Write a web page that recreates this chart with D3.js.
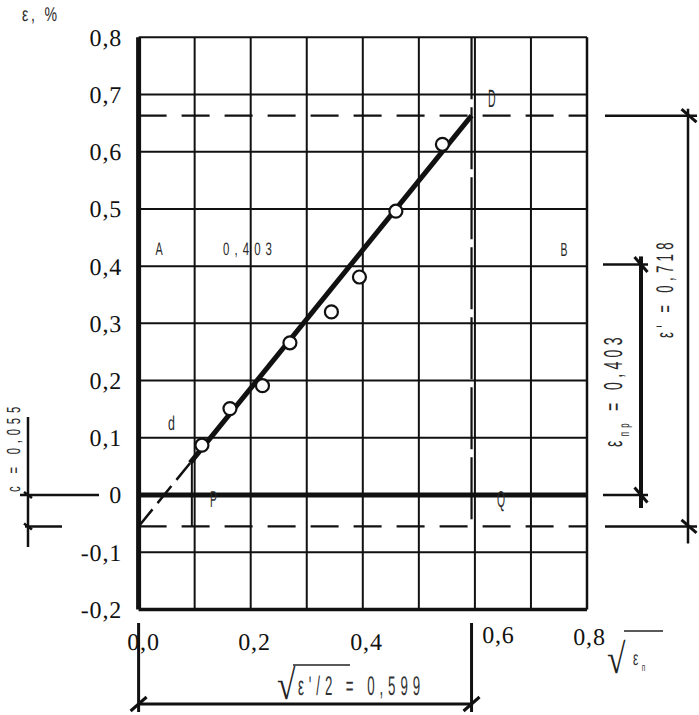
<!DOCTYPE html>
<html><head><meta charset="utf-8">
<script src="https://cdn.jsdelivr.net/npm/d3@7"></script>
<style>body{margin:0;background:#fff}svg{display:block}text{text-rendering:geometricPrecision}</style>
</head><body>
<svg id="c" width="699" height="715"></svg>
<script>
// ---- data ----
const xTickValues = [0, 0.2, 0.4, 0.6, 0.8];
const xTickLabels = ["0,0", "0,2", "0,4", "0,6", "0,8"];
const yTickValues = [0.8, 0.7, 0.6, 0.5, 0.4, 0.3, 0.2, 0.1, 0, -0.1, -0.2];
const yTickLabels = ["0,8", "0,7", "0,6", "0,5", "0,4", "0,3", "0,2", "0,1", "0", "-0,1", "-0,2"];
const gridX = [0, 0.1, 0.2, 0.3, 0.4, 0.5, 0.6, 0.7, 0.8];
const gridY = [0.8, 0.7, 0.6, 0.5, 0.4, 0.3, 0.2, 0.1, 0, -0.1, -0.2];
const pointsX = [0.113, 0.163, 0.221, 0.270, 0.344, 0.394, 0.459, 0.542];
const pointsY = [0.087, 0.151, 0.191, 0.266, 0.320, 0.381, 0.496, 0.613];
const fitX = [0, 0.092, 0.594];
const fitY = [-0.055, 0.056, 0.663];
const levelD = 0.663;     // ε' - c
const levelLow = -0.055;  // -c
const levelAB = 0.403;    // ε_пр
const xD = 0.594;         // drawn position of sqrt(ε'/2)
const xP = 0.095;
const cValue = "0,055", epsPrValue = "0,403", epsPrimeValue = "0,718", sqrtValue = "0,599";

// ---- setup ----
const svg = d3.select("#c");
const x = d3.scaleLinear().domain([0, 0.8]).range([138.6, 587]);
const y = d3.scaleLinear().domain([-0.2, 0.8]).range([609.4, 37.3]);
const INK = "#111";
const SERIF = "'Liberation Serif', Tinos, 'Times New Roman', 'DejaVu Serif', serif";
const NARROW = "'Liberation Sans', Arial, sans-serif";

// grid
svg.append("g").selectAll("line").data(gridX).join("line")
  .attr("x1", d => x(d)).attr("x2", d => x(d))
  .attr("y1", y(0.8)).attr("y2", y(-0.2))
  .attr("stroke", INK).attr("stroke-width", d => d === 0 ? 5 : (d === 0.8 ? 2.5 : 2));
svg.append("g").selectAll("line").data(gridY).join("line")
  .attr("x1", x(0)).attr("x2", x(0.8))
  .attr("y1", d => y(d)).attr("y2", d => y(d))
  .attr("stroke", INK).attr("stroke-width", d => d === 0 ? 5 : (d === -0.2 ? 3.5 : 2));

// dashed construction lines
const dashed = svg.append("g").attr("stroke", INK).attr("stroke-width", 2.2).attr("fill", "none");
[levelD, levelLow].forEach(v => dashed.append("line")
  .attr("x1", x(0)).attr("x2", x(0.8)).attr("y1", y(v)).attr("y2", y(v))
  .attr("stroke-dasharray", "28,15"));
dashed.append("line").attr("x1", x(xD)).attr("x2", x(xD))
  .attr("y1", y(0.8)).attr("y2", y(levelLow)).attr("stroke-dasharray", "62,8");
dashed.append("line").attr("x1", x(xP)).attr("x2", x(xP))
  .attr("y1", y(fitY[1])).attr("y2", y(levelLow)).attr("stroke-width", 2);

// fitted line
svg.append("line").attr("x1", x(fitX[0])).attr("y1", y(fitY[0]))
  .attr("x2", x(fitX[1])).attr("y2", y(fitY[1]))
  .attr("stroke", INK).attr("stroke-width", 2.5).attr("stroke-dasharray", "22,8");
svg.append("line").attr("x1", x(fitX[1])).attr("y1", y(fitY[1]))
  .attr("x2", x(fitX[2])).attr("y2", y(fitY[2]))
  .attr("stroke", INK).attr("stroke-width", 5);

// points
svg.append("g").selectAll("circle").data(pointsX).join("circle")
  .attr("cx", d => x(d)).attr("cy", (d, i) => y(pointsY[i])).attr("r", 6.5)
  .attr("fill", "#fff").attr("stroke", INK).attr("stroke-width", 2.2);

// axes
const yAxis = svg.append("g").attr("transform", `translate(${x(0)},0)`)
  .call(d3.axisLeft(y).tickValues(yTickValues).tickFormat((d, i) => yTickLabels[i]).tickSize(0).tickPadding(16.6));
yAxis.attr("font-family", SERIF).attr("font-size", 24);
yAxis.select(".domain").remove();
yAxis.selectAll("text").style("font-family", SERIF).style("font-size", "24px")
  .attr("letter-spacing", 0.8).attr("fill", INK).attr("dy", "0.33em");

const xDx = [4.4, 3.3, 3.2, 23, 2];
const xBase = [40.6, 40.6, 40.6, 33.6, 35.6];
const xAxis = svg.append("g").attr("transform", `translate(0,${y(-0.2)})`)
  .call(d3.axisBottom(x).tickValues(xTickValues).tickFormat((d, i) => xTickLabels[i]).tickSize(0));
xAxis.attr("font-family", SERIF).attr("font-size", 24);
xAxis.select(".domain").remove();
xAxis.selectAll("text").style("font-family", SERIF).style("font-size", "24px")
  .attr("letter-spacing", 0.8).attr("fill", INK)
  .attr("dx", (d, i) => xDx[i]).attr("y", (d, i) => xBase[i]).attr("dy", 0);

// condensed label helper
function clabel(o) {
  const fs = o.fs || 20;
  const t = svg.append("text")
    .attr("transform", `translate(${o.x},${o.y}) rotate(${o.rot || 0}) scale(${o.sx || 1},1)`)
    .style("font-family", NARROW).style("font-size", fs + "px")
    .attr("letter-spacing", o.ls || 0).attr("fill", o.fill || "#2a2a2a")
    .attr("text-anchor", o.anchor || "start");
  (o.parts || [[o.text]]).forEach(p => {
    const s = t.append("tspan").text(p[0]);
    if (p[1] === "sub") s.style("font-size", (fs * 0.55) + "px").attr("dy", fs * 0.28);
    if (p[1] === "back") s.attr("dy", -fs * 0.28);
  });
  if (o.len) t.attr("textLength", o.len / (o.sx || 1)).attr("lengthAdjust", "spacingAndGlyphs");
  return t;
}

clabel({x: 22, y: 21, text: "ε, %", fs: 20, ls: 4, len: 38});
clabel({x: 159, y: 255, text: "A", fs: 18, sx: 0.6, anchor: "middle"});
clabel({x: 223, y: 255, text: epsPrValue, fs: 18, ls: 8, len: 54});
clabel({x: 564, y: 256, text: "B", fs: 19, sx: 0.55, anchor: "middle"});
clabel({x: 488, y: 107, text: "D", fs: 25, sx: 0.42});
clabel({x: 168, y: 430, text: "d", fs: 20, sx: 0.62});
clabel({x: 210, y: 507, text: "P", fs: 23, sx: 0.45});
clabel({x: 497, y: 507, text: "Q", fs: 23, sx: 0.45});

// rotated annotation texts
clabel({x: 622, y: 447, rot: -90, fs: 26, ls: 8, len: 114,
  parts: [["ε"], ["пр", "sub"], [" = " + epsPrValue, "back"]]});
clabel({x: 673, y: 338, rot: -90, fs: 24, ls: 8, len: 100, text: "ε' = " + epsPrimeValue});
clabel({x: 20, y: 492, rot: -90, fs: 19, ls: 8, len: 90, text: "c = " + cValue});

// bottom annotation text with radical
svg.append("text").attr("transform", "translate(277,699) scale(0.8,1)").style("font-family", SERIF)
  .style("font-size", "42px").attr("fill", "#222").text("√");
svg.append("line").attr("x1", 293).attr("x2", 350).attr("y1", 665).attr("y2", 665)
  .attr("stroke", "#222").attr("stroke-width", 1.3);
clabel({x: 298, y: 695, fs: 27, ls: 10, len: 127, fill: "#333", text: "ε'/2  = " + sqrtValue});

// x axis title: sqrt(ε_п)
svg.append("text").attr("transform", "translate(607,673) scale(0.8,1)").style("font-family", SERIF)
  .style("font-size", "42px").attr("fill", "#222").text("√");
svg.append("line").attr("x1", 624).attr("x2", 663).attr("y1", 631).attr("y2", 631)
  .attr("stroke", "#222").attr("stroke-width", 1.3);
clabel({x: 633, y: 665, fs: 20, sx: 0.6, fill: "#333", parts: [["ε "], ["п", "sub"]]});

// dimension lines
const dim = svg.append("g").attr("stroke", INK).attr("fill", "none");
function slash(cx, cy, dx, dy, w) {
  dim.append("line").attr("x1", cx - dx).attr("y1", cy - dy).attr("x2", cx + dx).attr("y2", cy + dy).attr("stroke-width", w);
}
// right outer: ε'
[levelD, levelLow].forEach(v => dim.append("line").attr("x1", 605).attr("x2", 697)
  .attr("y1", y(v)).attr("y2", y(v)).attr("stroke-width", 2.5));
dim.append("line").attr("x1", 688).attr("x2", 688).attr("y1", y(levelD) - 7).attr("y2", y(levelLow) + 17).attr("stroke-width", 2.5);
slash(689, y(levelD), 7.5, 6.5, 3); slash(689, y(levelLow), 7.5, 6.5, 3);
// right inner: ε_пр
[levelAB, 0].forEach(v => dim.append("line").attr("x1", 603).attr("x2", 648)
  .attr("y1", y(v)).attr("y2", y(v)).attr("stroke-width", 2.5));
dim.append("line").attr("x1", 641).attr("x2", 641).attr("y1", y(levelAB) - 8).attr("y2", y(0) + 13).attr("stroke-width", 4);
slash(641, y(levelAB), 6.5, 7.5, 3); slash(641, y(0), 6.5, 7.5, 3);
// left: c
dim.append("line").attr("x1", 20).attr("x2", 99).attr("y1", y(0)).attr("y2", y(0)).attr("stroke-width", 2.5);
dim.append("line").attr("x1", 25).attr("x2", 62).attr("y1", y(levelLow)).attr("y2", y(levelLow)).attr("stroke-width", 2.5);
dim.append("line").attr("x1", 28).attr("x2", 28).attr("y1", 417).attr("y2", 547).attr("stroke-width", 2.5);
slash(28, y(0), 4, 3, 2.5); slash(28, y(levelLow), 4, 3, 2.5);
// bottom: sqrt(ε'/2)
[0, xD].forEach(v => dim.append("line").attr("x1", x(v)).attr("x2", x(v))
  .attr("y1", 623).attr("y2", 712).attr("stroke-width", 3));
dim.append("line").attr("x1", x(0)).attr("x2", x(xD)).attr("y1", 704).attr("y2", 704).attr("stroke-width", 3);
slash(x(0), 704, 8, -7, 3); slash(x(xD), 704, 8, -7, 3);
</script>
</body></html>
